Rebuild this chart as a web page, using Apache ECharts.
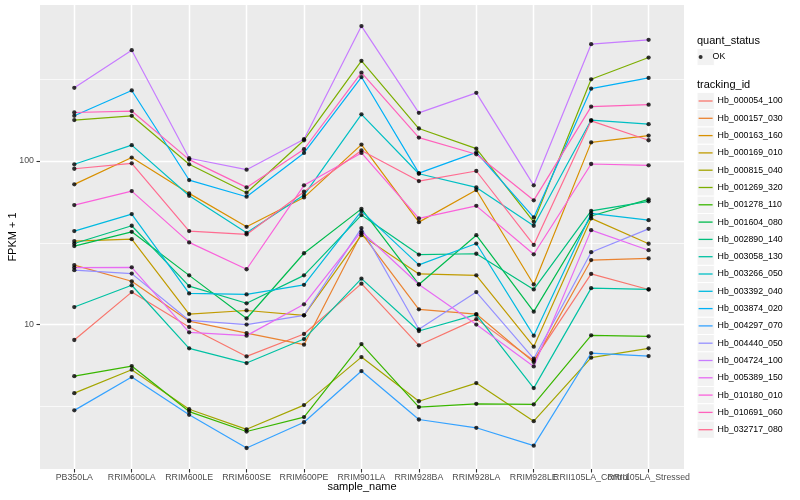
<!DOCTYPE html>
<html><head><meta charset="utf-8">
<script src="https://cdn.jsdelivr.net/npm/echarts@6/dist/echarts.min.js"></script>
<style>html,body{margin:0;padding:0;background:#fff}#c{width:800px;height:500px}</style>
</head><body><div id="c"></div>
<script>
// ---- data ----
const categories = ['PB350LA','RRIM600LA','RRIM600LE','RRIM600SE','RRIM600PE','RRIM901LA','RRIM928BA','RRIM928LA','RRIM928LE','RRII105LA_Control','RRII105LA_Stressed'];
const trackingIds = ['Hb_000054_100','Hb_000157_030','Hb_000163_160','Hb_000169_010','Hb_000815_040','Hb_001269_320','Hb_001278_110','Hb_001604_080','Hb_002890_140','Hb_003058_130','Hb_003266_050','Hb_003392_040','Hb_003874_020','Hb_004297_070','Hb_004440_050','Hb_004724_100','Hb_005389_150','Hb_010180_010','Hb_010691_060','Hb_032717_080'];
const quantStatus = ['OK'];
const yTickLabels = ['10', '100'];

const s000054_100 = [8.05, 15.8, 9.67, 6.39, 8.76, 17.8, 7.47, 10.8, 6.04, 20.4, 16.4];
const s000157_030 = [23.1, 18.4, 10.5, 8.88, 7.54, 36.2, 12.4, 11.6, 5.90, 24.8, 25.4];
const s000163_160 = [72.0, 105, 63.4, 39.6, 59.9, 126, 42.3, 66.5, 17.6, 130, 143];
const s000169_010 = [32.4, 33.3, 11.6, 12.2, 11.4, 35.2, 20.4, 20.0, 7.33, 44.6, 31.2];
const s000815_040 = [3.81, 5.30, 3.04, 2.29, 3.22, 6.33, 3.40, 4.39, 2.57, 6.28, 7.16];
const s001269_320 = [178, 189, 95.5, 64.0, 134, 410, 158, 119, 42.5, 316, 429];
const s001278_110 = [4.84, 5.58, 2.94, 2.22, 2.72, 7.60, 3.13, 3.28, 3.25, 8.60, 8.48];
const s001604_080 = [30.2, 36.9, 20.0, 10.9, 27.3, 51.0, 17.6, 35.2, 12.0, 46.1, 58.3];
const s002890_140 = [31.3, 40.2, 17.2, 13.5, 20.0, 46.7, 26.8, 27.1, 16.4, 49.6, 56.7];
const s003058_130 = [12.8, 17.4, 7.16, 5.82, 8.16, 19.1, 9.14, 11.5, 4.09, 16.7, 16.4];
const s003266_050 = [95.5, 125, 61.3, 36.4, 61.9, 193, 83.6, 69.0, 40.2, 178, 168];
const s003392_040 = [37.3, 47.4, 15.5, 15.3, 17.5, 49.4, 23.2, 31.3, 8.56, 47.8, 43.5];
const s003874_020 = [189, 270, 76.5, 60.5, 112, 326, 84.4, 113, 45.2, 277, 322];
const s004297_070 = [2.99, 4.78, 2.81, 1.76, 2.53, 5.20, 2.63, 2.34, 1.82, 6.70, 6.42];
const s004440_050 = [21.5, 20.5, 10.6, 10.0, 11.4, 38.9, 9.36, 15.8, 6.19, 27.7, 38.5];
const s004724_100 = [280, 476, 104, 88.5, 136, 668, 197, 261, 71.0, 518, 551];
const s005389_150 = [22.3, 22.4, 8.97, 8.56, 13.3, 37.1, 17.6, 10.0, 5.55, 37.8, 28.5];
const s010180_010 = [53.8, 65.5, 31.8, 21.8, 71.0, 112, 44.6, 53.2, 26.9, 95.9, 94.1];
const s010691_060 = [198, 202, 102, 69.0, 118, 347, 139, 110, 57.5, 215, 221];
const s032717_080 = [89.7, 96.8, 37.3, 35.6, 64.9, 116, 75.4, 86.9, 30.7, 176, 134];

const seriesValues = [s000054_100, s000157_030, s000163_160, s000169_010, s000815_040, s001269_320, s001278_110, s001604_080, s002890_140, s003058_130, s003266_050, s003392_040, s003874_020, s004297_070, s004440_050, s004724_100, s005389_150, s010180_010, s010691_060, s032717_080];

// ---- style ----
const palette = ['#F8766D','#EA8331','#D89000','#C09B00','#A3A500','#7CAE00','#39B600','#00BB4E','#00BF7D','#00C1A3','#00BFC4','#00BAE0','#00B0F6','#35A2FF','#9590FF','#C77CFF','#E76BF3','#FA62DB','#FF62BC','#FF6C91'];
const FONT = '"Liberation Sans", Arial, Helvetica, sans-serif';
const yMin = 1.31, yMax = 899;
const PANEL = {left: 40, right: 684, top: 5, bottom: 469};
const CAT = {first: 74.3, last: 648.6};
const KEY = {x: 697, size: 17.3, firstCenter: 101, okCenter: 57};

const chart = echarts.init(document.getElementById('c'), null, {renderer: 'canvas'});

const lineSeries = trackingIds.map((id, k) => ({
  name: id, type: 'line', xAxisIndex: 1, yAxisIndex: 2,
  data: seriesValues[k], symbol: 'none', color: palette[k],
  lineStyle: {color: palette[k], width: 1.2}, itemStyle: {color: palette[k]},
  silent: true, animation: false, z: 5
}));
const pts = [];
seriesValues.forEach(vals => vals.forEach((v, i) => pts.push([categories[i], v])));
const okSeries = {
  name: quantStatus[0], type: 'scatter', xAxisIndex: 1, yAxisIndex: 2, data: pts,
  symbol: 'circle', symbolSize: 4.3, color: '#000', itemStyle: {color: '#000'},
  silent: true, animation: false, z: 6
};
// vertical major grid lines at each category, placed through the category axis
const vGridSeries = {
  name: '_vgrid', type: 'line', xAxisIndex: 1, yAxisIndex: 2, data: [], silent: true, animation: false, z: 1,
  markLine: {silent: true, animation: false, z: 1, symbol: ['none', 'none'], label: {show: false},
    emphasis: {disabled: true},
    lineStyle: {color: '#FFFFFF', width: 1.3, type: 'solid'},
    data: categories.map(c => ({xAxis: c}))}
};

const graphics = [];
graphics.push({type: 'rect', shape: {x: KEY.x, y: KEY.okCenter - KEY.size / 2, width: KEY.size, height: KEY.size},
  style: {fill: '#F2F2F2', stroke: '#FFFFFF', lineWidth: 1}, z: 0});
trackingIds.forEach((id, i) => {
  graphics.push({type: 'rect', shape: {x: KEY.x, y: KEY.firstCenter - KEY.size / 2 + i * KEY.size, width: KEY.size, height: KEY.size},
    style: {fill: '#F2F2F2', stroke: '#FFFFFF', lineWidth: 1}, z: 0});
});
graphics.push({type: 'text', x: KEY.x, y: 40.7, style: {text: 'quant_status', fill: '#000', font: '11px ' + FONT, align: 'left', verticalAlign: 'middle'}});
graphics.push({type: 'text', x: KEY.x, y: 85, style: {text: 'tracking_id', fill: '#000', font: '11px ' + FONT, align: 'left', verticalAlign: 'middle'}});
graphics.push({type: 'text', x: (PANEL.left + PANEL.right) / 2, y: 487, style: {text: 'sample_name', fill: '#000', font: '11px ' + FONT, align: 'center', verticalAlign: 'middle'}});
graphics.push({type: 'text', x: 12.8, y: (PANEL.top + PANEL.bottom) / 2, rotation: Math.PI / 2, style: {text: 'FPKM + 1', fill: '#000', font: '11px ' + FONT, align: 'center', verticalAlign: 'middle'}});

const legendText = {fontSize: 8.8, lineHeight: 12, color: '#000', fontFamily: FONT};
const option = {
  animation: false,
  backgroundColor: '#FFFFFF',
  grid: [
    {left: PANEL.left, right: 800 - PANEL.right, top: PANEL.top, bottom: 500 - PANEL.bottom, show: true, backgroundColor: '#EBEBEB', borderWidth: 0, z: 0},
    {left: CAT.first, right: 800 - CAT.last, top: PANEL.top, bottom: 500 - PANEL.bottom, z: 0}
  ],
  xAxis: [
    {gridIndex: 0, type: 'value', min: 0, max: 1, show: false},
    {gridIndex: 1, type: 'category', data: categories, boundaryGap: false, z: 3,
      axisLine: {show: false},
      axisTick: {show: true, interval: 0, length: 3.5, lineStyle: {color: '#333333', width: 1.1}},
      axisLabel: {interval: 0, color: '#4D4D4D', fontSize: 8.8, fontFamily: FONT, margin: 4.5},
      splitLine: {show: true, interval: 0, lineStyle: {color: '#FFFFFF', width: 1.3}}}
  ],
  yAxis: [
    {gridIndex: 0, type: 'log', logBase: 10, min: yMin, max: yMax, position: 'left', z: 3,
      axisLine: {show: false},
      axisTick: {show: true, length: 3.5, lineStyle: {color: '#333333', width: 1.1}},
      axisLabel: {showMinLabel: false, showMaxLabel: false, color: '#4D4D4D', fontSize: 8.8, fontFamily: FONT, margin: 6,
        formatter: v => { const s = String(Math.round(v)); return yTickLabels.indexOf(s) >= 0 && Math.abs(v - Math.round(v)) < 1e-6 ? s : ''; }},
      splitLine: {show: true, showMinLine: false, showMaxLine: false, lineStyle: {color: '#FFFFFF', width: 1.3}}},
    {gridIndex: 0, type: 'log', logBase: Math.sqrt(10), min: yMin, max: yMax, position: 'right', z: 2,
      axisLine: {show: false}, axisTick: {show: false}, axisLabel: {show: false},
      splitLine: {show: true, showMinLine: false, showMaxLine: false, lineStyle: {color: '#FFFFFF', width: 0.7}}},
    {gridIndex: 1, type: 'log', logBase: 10, min: yMin, max: yMax, show: false, splitLine: {show: false}}
  ],
  legend: [
    {data: quantStatus, orient: 'vertical', left: KEY.x + 1.6, top: KEY.okCenter - 6, padding: 0,
      icon: 'circle', itemWidth: 14, itemHeight: 4, itemGap: 5.3, textStyle: legendText, selectedMode: false},
    {data: trackingIds, orient: 'vertical', left: KEY.x + 1.6, top: KEY.firstCenter - 6, padding: 0,
      icon: 'rect', itemWidth: 14, itemHeight: 1.3, itemGap: 5.3, textStyle: legendText, selectedMode: false}
  ],
  graphic: graphics,
  series: [vGridSeries, ...lineSeries, okSeries]
};
chart.setOption(option);
</script>
</body></html>
